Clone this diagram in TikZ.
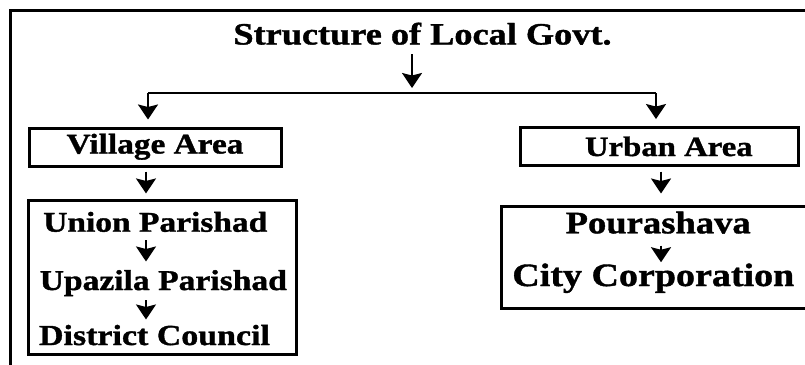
\documentclass[tikz,border=0pt]{standalone}
\usepackage{fontspec}
\setmainfont[FakeStretch=1.17,BoldFeatures={FakeBold=1.2}]{Liberation Serif}
\usetikzlibrary{arrows.meta}
\tikzstyle{box}=[draw,line width=3pt,inner sep=0pt]
\tikzstyle{arr}=[draw,line width=2pt,-{Stealth[length=15pt,width=20pt,inset=2.5pt]}]
\tikzset{txt/.style={inner sep=0pt,anchor=base,font=\bfseries\fontsize{#1}{#1}\selectfont},
    txt/.default=29}

\begin{document}
\begin{tikzpicture}[x=1pt,y=-1pt]
    % Page and the outer frame (runs off the right and bottom)
    \useasboundingbox (0,0) rectangle (805,364);
    \clip (0,0) rectangle (805,364);
    \draw[line width=3.5pt] (10.5,10.5) rectangle (830,390);
    % Heading
    \node[txt=31] (title) at (422.5,44.5) {Structure of Local Govt.};
    % The two areas
    \node[box,minimum width=252pt,minimum height=38pt] (villagebox) at (155.5,147) {};
    \node[txt=28.5] (village) at (155,153.5) {Village Area};
    \node[box,minimum width=278pt,minimum height=37.5pt] (urbanbox) at (659,146.3) {};
    \node[txt=28] (urban) at (668.8,156) {Urban Area};
    % Bodies under each area
    \node[box,minimum width=267.7pt,minimum height=154.3pt] (leftbox) at (162.8,277.8) {};
    \node[box,minimum width=310pt,minimum height=101.6pt] (rightbox) at (656.8,257.5) {};
    \foreach \pos/\name/\size/\label in {(155.3,231.7)/union/28.6/Union Parishad,
        (163.3,290)/upazila/28.7/Upazila Parishad, (154.5,345)/district/29/District Council,
        (658.2,233.3)/pourashava/31.3/Pourashava, (653.3,286)/city/32.5/City Corporation}
        \node[txt=\size] (\name) at \pos {\label};
    % Branch points and arrow columns
    \coordinate (barL) at (148,93);
    \coordinate (barT) at (412,93);
    \coordinate (barR) at (656,93);
    \coordinate (lcol) at (146,0);
    \coordinate (rcol) at (661,0);
    % Connect everything with arrows
    \draw[line width=2pt] (barL) -- (barR);
    \draw[arr,shorten <=9pt,shorten >=5pt] (title.south -| barT) -- (barT);
    \foreach \c/\b in {barL/villagebox, barR/urbanbox}
        \draw[arr,shorten >=7pt] (\c) -- (\b.north -| \c);
    \draw[arr,shorten <=4pt,shorten >=5.7pt] (villagebox.south -| lcol) -- (leftbox.north -| lcol);
    \draw[arr,shorten <=5pt,shorten >=11.7pt] (urbanbox.south -| rcol) -- (rightbox.north -| rcol);
    \draw[arr,shorten <=8.3pt,shorten >=8.4pt] (union.south -| lcol) -- (upazila.north -| lcol);
    \draw[arr,shorten <=4pt,shorten >=5.2pt] (upazila.south -| lcol) -- (district.north -| lcol);
    \draw[arr,shorten <=11.7pt,shorten >=1pt] (pourashava.south -| rcol) -- (city.north -| rcol);
\end{tikzpicture}
\end{document}
